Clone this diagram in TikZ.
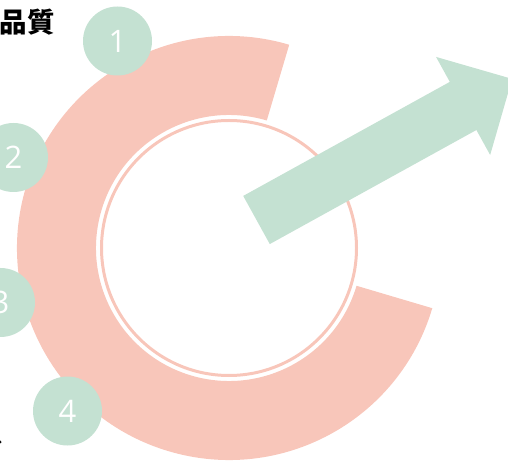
\documentclass[tikz,border=0pt]{standalone}
\usepackage{fontspec}
\setsansfont{Open Sans}
\newfontfamily\cjk{Noto Sans CJK JP}
\definecolor{ringpink}{HTML}{F8C6BA}
\definecolor{markgreen}{HTML}{C4E1D2}
\tikzset{
	stepdot/.style={circle, fill=markgreen, minimum size=69pt, inner sep=0pt, text=white, font=\sffamily\fontsize{31}{31}\selectfont},
	tagtext/.style={anchor=east, inner sep=0pt, font=\cjk\bfseries\fontsize{27.5}{27.5}\selectfont}
}
\begin{document}
\begin{tikzpicture}[x=1pt,y=1pt]
		\useasboundingbox (0,0) rectangle (508,463);
		% open ring and inner circle
		\coordinate (center) at (229,215);
		\def \Ro{212}; %outer radius
		\def \Ri{133}; %inner radius
		\fill[ringpink, shift={(center)}] (73.5:\Ro) arc (73.5:343.5:\Ro) -- (343.5:\Ri) arc (343.5:73.5:\Ri) -- cycle;
		\draw[ringpink, line width=3pt] (center) circle (127.5);
		
		% rising arrow
		\coordinate (tail) at (256.5,243);
		\fill[markgreen, shift={(tail)}, rotate=28.9] (0,-27.5) -- (236,-27.5) -- (236,-56) -- (292,0) -- (236,56) -- (236,27.5) -- (0,27.5) -- cycle;
		
		% numbered markers
		\node[stepdot] (n1) at (117.5,422) {1};
		\node[stepdot] (n2) at (13.5,305.5) {2};
		\node[stepdot] (n3) at (0.5,160.5) {3};
		\node[stepdot] (n4) at (67.5,52) {4};
		\node[tagtext] (quality) at (55,441) {品質};
		\node[tagtext] (service) at (4,30) {サービス};
	\end{tikzpicture}
\end{document}
